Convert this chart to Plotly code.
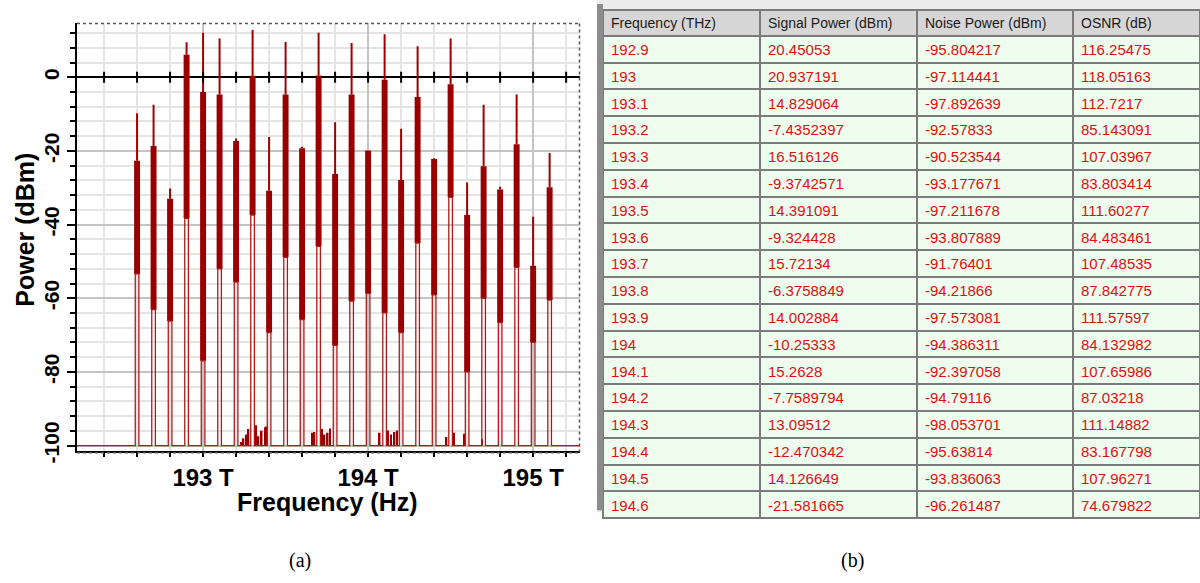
import numpy as np
import plotly.graph_objects as go

# ---------------- Spectrum data ----------------
chan_thz = [192.6, 192.7, 192.8, 192.9, 193.0, 193.1, 193.2, 193.3, 193.4, 193.5,
            193.6, 193.7, 193.8, 193.9, 194.0, 194.1, 194.2, 194.3, 194.4, 194.5,
            194.6, 194.7, 194.8, 194.9, 195.0, 195.1]
peak_dbm = [-9.8, -7.5, -30.2, 9.5, 12.1, 10.5, -16.6, 12.8, -16.2, 9.6,
            -18.9, 12.1, -12.2, 9.3, -19.9, 11.7, -14.0, 8.4, -22.0, 10.5,
            -28.6, -7.5, -29.7, -4.7, -37.9, -20.6]
body_top_dbm = [-22.7, -18.7, -33.0, 6.1, -4.0, -4.7, -17.3, 0.4, -30.8, -4.7,
                -19.3, 0.5, -26.3, -4.7, -19.9, -0.7, -27.9, -5.4, -22.2, -1.9,
                -37.4, -24.2, -30.5, -18.2, -51.2, -29.9]
body_bottom_dbm = [-53.4, -63.1, -66.2, -38.3, -77.0, -52.0, -55.6, -37.4, -69.3, -48.9,
                   -65.8, -45.9, -72.8, -60.8, -58.7, -64.0, -69.3, -45.0, -59.1, -32.6,
                   -80.0, -60.0, -66.6, -51.6, -72.0, -60.5]
noise_thz = [193.23, 193.245, 193.26, 193.275, 193.32, 193.335, 193.355, 193.375, 193.385,
             193.66, 193.675, 193.72, 193.735, 193.755, 193.77,
             194.07, 194.12, 194.14, 194.16, 194.175, 194.475, 194.52, 194.585, 194.69]
noise_dbm = [-99.0, -98.0, -97.0, -95.5, -94.5, -97.5, -96.0, -95.0, -94.8,
             -96.5, -96.3, -95.5, -97.0, -96.5, -95.4,
             -96.5, -95.9, -97.0, -96.3, -95.9, -97.7, -96.5, -96.8, -98.3]
floor_dbm = -100.0

# ---------------- Table data ----------------
tab_freq = [192.9, 193, 193.1, 193.2, 193.3, 193.4, 193.5, 193.6, 193.7, 193.8, 193.9,
            194, 194.1, 194.2, 194.3, 194.4, 194.5, 194.6]
tab_signal = [20.45053, 20.937191, 14.829064, -7.4352397, 16.516126, -9.3742571, 14.391091,
              -9.324428, 15.72134, -6.3758849, 14.002884, -10.25333, 15.2628, -7.7589794,
              13.09512, -12.470342, 14.126649, -21.581665]
tab_noise = [-95.804217, -97.114441, -97.892639, -92.57833, -90.523544, -93.177671, -97.211678,
             -93.807889, -91.76401, -94.21866, -97.573081, -94.386311, -92.397058, -94.79116,
             -98.053701, -95.63814, -93.836063, -96.261487]
tab_osnr = [116.25475, 118.05163, 112.7217, 85.143091, 107.03967, 83.803414, 111.60277,
            84.483461, 107.48535, 87.842775, 111.57597, 84.132982, 107.65986, 87.03218,
            111.14882, 83.167798, 107.96271, 74.679822]
tab_header = ["Frequency (THz)", "Signal Power (dBm)", "Noise Power (dBm)", "OSNR (dB)"]

W, H = 1200, 583
X_RANGE = [192.236, 195.281]
Y_RANGE = [-101.4, 14.6]

def px_x(p):
    return p / W

def px_y(p):
    return 1 - p / H

fig = go.Figure()

# outline (thin) trace: floor with channel edges
half = 0.011
ox, oy = [X_RANGE[0]], [floor_dbm]
for c, b in zip(chan_thz, body_bottom_dbm):
    ox += [c - half, c - half, c + half, c + half]
    oy += [floor_dbm, b, b, floor_dbm]
ox.append(X_RANGE[1])
oy.append(floor_dbm)
fig.add_trace(go.Scatter(x=ox, y=oy, mode="lines",
                         line=dict(color="#b01818", width=1.3), hoverinfo="skip"))

# noise bumps
fig.add_trace(go.Bar(x=noise_thz, y=np.array(noise_dbm) - floor_dbm, base=floor_dbm,
                     width=0.01, marker=dict(color="#990000", line=dict(width=0))))

# thick channel bodies
fig.add_trace(go.Bar(x=chan_thz, y=np.array(body_top_dbm) - np.array(body_bottom_dbm),
                     base=body_bottom_dbm, width=0.036,
                     marker=dict(color="#990000", line=dict(width=0))))

# thin spikes
sx, sy = [], []
for c, t, p in zip(chan_thz, body_top_dbm, peak_dbm):
    sx += [c, c, None]
    sy += [t, p, None]
fig.add_trace(go.Scatter(x=sx, y=sy, mode="lines",
                         line=dict(color="#a00000", width=2), hoverinfo="skip"))

# tick marks on the zero line
zt = np.round(np.arange(192.4, 195.21, 0.2), 1)
fig.add_trace(go.Scatter(x=zt, y=np.zeros(len(zt)), mode="markers",
                         marker=dict(symbol="line-ns-open", size=8, color="black",
                                     line=dict(color="black", width=2)),
                         hoverinfo="skip"))

TFONT = "Liberation Sans, Arial, sans-serif"

# table
fig.add_trace(go.Table(
    domain=dict(x=[px_x(603), 1.0], y=[px_y(550), px_y(10)]),
    columnwidth=[157, 157, 156, 127],
    header=dict(values=tab_header, align="left", height=26,
                fill=dict(color="#d6d6d6"),
                line=dict(color="#7a7a7a", width=2),
                font=dict(family=TFONT, size=14, color="#1a1a1a")),
    cells=dict(values=[[str(v) for v in tab_freq], [str(v) for v in tab_signal],
                       [str(v) for v in tab_noise], [str(v) for v in tab_osnr]],
               align="left", height=26.8,
               fill=dict(color="#effdef"),
               line=dict(color="#7a7a7a", width=2),
               font=dict(family=TFONT, size=15, color="#dd1010")),
))

fig.update_layout(
    width=W, height=H, margin=dict(l=0, r=0, t=0, b=0),
    paper_bgcolor="white", plot_bgcolor="white",
    showlegend=False, barmode="overlay",
    xaxis=dict(domain=[px_x(77), px_x(579.5)], range=X_RANGE,
               tickmode="linear", tick0=193, dtick=1, ticksuffix=" T",
               ticks="outside", ticklen=4, tickwidth=2, tickcolor="black",
               tickfont=dict(family="Liberation Sans", size=24, color="black", weight="bold"),
               showline=True, linecolor="black", linewidth=2,
               showgrid=True, gridcolor="#c4c4c4", gridwidth=1.5,
               zeroline=False,
               minor=dict(tickmode="linear", tick0=192.2, dtick=0.2, ticks="outside",
                          ticklen=4, tickwidth=2, tickcolor="black",
                          showgrid=True, gridcolor="#e4e4e4", gridwidth=1.5)),
    yaxis=dict(domain=[px_y(461), px_y(24)], range=Y_RANGE,
               tickmode="array", tickvals=[-100, -80, -60, -40, -20, 0],
               ticktext=["-100", "-80", "-60", "-40", "-20", "0"],
               tickangle=-90,
               ticks="outside", ticklen=8, tickwidth=2, tickcolor="black",
               tickfont=dict(family="Liberation Sans", size=21, color="black", weight="bold"),
               showline=True, linecolor="black", linewidth=2,
               showgrid=True, gridcolor="#c4c4c4", gridwidth=1.5,
               zeroline=True, zerolinecolor="black", zerolinewidth=2,
               minor=dict(tickmode="linear", tick0=0, dtick=4, ticks="outside",
                          ticklen=5, tickwidth=2, tickcolor="black",
                          showgrid=True, gridcolor="#e4e4e4", gridwidth=1.5)),
    shapes=[
        dict(type="line", xref="paper", yref="paper", x0=px_x(77), x1=px_x(579.5),
             y0=px_y(24), y1=px_y(24), line=dict(color="#555555", width=1.5, dash="dot")),
        dict(type="line", xref="paper", yref="paper", x0=px_x(579.5), x1=px_x(579.5),
             y0=px_y(24), y1=px_y(462), line=dict(color="#555555", width=1.5, dash="dot")),
        dict(type="line", xref="paper", yref="paper", x0=px_x(77), x1=px_x(579.5),
             y0=px_y(463), y1=px_y(463), line=dict(color="#555555", width=1.5, dash="dot")),
        dict(type="rect", xref="paper", yref="paper", x0=px_x(597), x1=1.0,
             y0=px_y(10), y1=1.0, fillcolor="#ececec", line=dict(width=0), layer="below"),
        dict(type="rect", xref="paper", yref="paper", x0=px_x(597), x1=1.0,
             y0=px_y(524), y1=px_y(519), fillcolor="#e6e6e6", line=dict(width=0), layer="below"),
        dict(type="rect", xref="paper", yref="paper", x0=px_x(597), x1=px_x(603),
             y0=px_y(522), y1=px_y(4), fillcolor="#8c8c8c", line=dict(width=0)),
    ],
    annotations=[
        dict(text="<b>Power (dBm)</b>", xref="paper", yref="paper", x=px_x(25), y=px_y(235),
             xanchor="center", yanchor="middle", textangle=-90, showarrow=False,
             font=dict(family="Liberation Sans", size=25, color="black")),
        dict(text="<b>Frequency (Hz)</b>", xref="paper", yref="paper", x=px_x(327), y=px_y(513),
             xanchor="center", yanchor="middle", showarrow=False,
             font=dict(family="Liberation Sans", size=25, color="black")),
        dict(text="(a)", xref="paper", yref="paper", x=px_x(300), y=px_y(573),
             xanchor="center", yanchor="middle", showarrow=False,
             font=dict(family="Liberation Serif", size=20, color="black")),
        dict(text="(b)", xref="paper", yref="paper", x=px_x(852), y=px_y(573),
             xanchor="center", yanchor="middle", showarrow=False,
             font=dict(family="Liberation Serif", size=20, color="black")),
    ],
)

fig.write_html("out.html")
